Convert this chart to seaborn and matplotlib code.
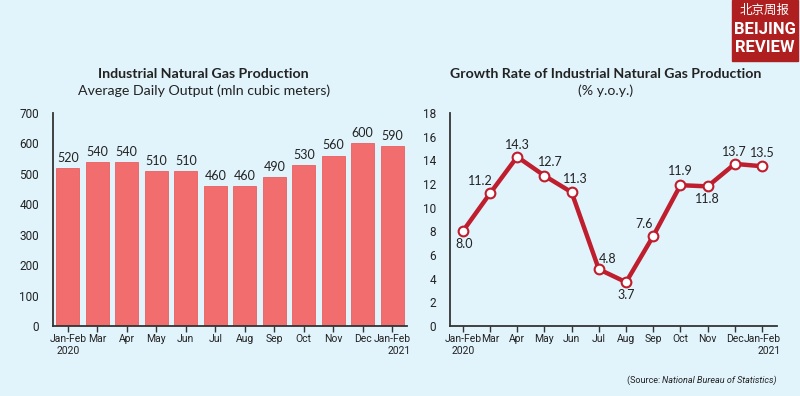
import matplotlib
matplotlib.use("Agg")
import matplotlib.pyplot as plt
import matplotlib.patches as mpatches
import pandas as pd
import seaborn as sns

# Data
months = ["Jan-Feb\n2020", "Mar", "Apr", "May", "Jun", "Jul", "Aug",
          "Sep", "Oct", "Nov", "Dec", "Jan-Feb\n2021"]
daily_output = [520, 540, 540, 510, 510, 460, 460, 490, 530, 560, 600, 590]
growth_rate = [8.0, 11.2, 14.3, 12.7, 11.3, 4.8, 3.7, 7.6, 11.9, 11.8, 13.7, 13.5]
# label offsets in pixels (dx, dy) for the growth labels
growth_offsets = [(1, -13), (-10, 12), (0, 12), (6, 14), (4, 13), (9, 10),
                  (0, -13), (-9, 12), (0, 14), (0, -13), (0, 12), (0, 13)]

BG = "#E1F3FB"
BAR = "#F26D6D"
LINE = "#BE1E2D"
TXT = "#222222"

sns.set_theme(style="white")
plt.rcParams["font.family"] = ["Lato", "DejaVu Sans"]
plt.rcParams["axes.facecolor"] = BG
plt.rcParams["figure.facecolor"] = BG

df = pd.DataFrame({"month": months, "output": daily_output, "growth": growth_rate})

fig = plt.figure(figsize=(8, 3.96), dpi=100)
ax1 = fig.add_axes([53 / 800, 1 - 326 / 396, 354 / 800, 213 / 396])
ax2 = fig.add_axes([450 / 800, 1 - 326 / 396, 327 / 800, 213 / 396])

tick_font = ["Liberation Sans Narrow", "Roboto", "DejaVu Sans"]

# Left: bar chart
sns.barplot(data=df, x="month", y="output", color=BAR, saturation=1,
            width=0.78, edgecolor="#E86060", linewidth=0.6, ax=ax1)
for c in ax1.containers:
    ax1.bar_label(c, padding=3, fontsize=9, color=TXT)
ax1.set_ylim(0, 700)
ax1.set_xlim(-0.5, 11.5)
ax1.set_yticks(range(0, 701, 100))

# Right: line chart
sns.lineplot(x=range(len(months)), y=growth_rate, color=LINE, linewidth=3.2,
             marker="o", markersize=7, markerfacecolor="white",
             markeredgecolor=LINE, markeredgewidth=1.5, ax=ax2)
for i, (v, (dx, dy)) in enumerate(zip(growth_rate, growth_offsets)):
    ax2.annotate(f"{v:.1f}", (i, v), xytext=(dx, dy), textcoords="offset pixels",
                 ha="center", va="center", fontsize=9, color=TXT)
ax2.set_ylim(0, 18)
ax2.set_xlim(-0.47, 11.55)
ax2.set_yticks(range(0, 19, 2))
ax2.set_xticks(range(len(months)))
ax2.set_xticklabels(months)

for ax in (ax1, ax2):
    ax.set_xlabel("")
    ax.set_ylabel("")
    for s in ("top", "right"):
        ax.spines[s].set_visible(False)
    for s in ("left", "bottom"):
        ax.spines[s].set_color("#333333")
        ax.spines[s].set_linewidth(1.3)
    ax.tick_params(axis="x", bottom=True, length=4, width=1, color="#333333",
                   pad=2, labelsize=7.5, labelcolor=TXT)
    ax.tick_params(axis="y", left=False, pad=4, labelsize=8.5, labelcolor=TXT)
    for lab in ax.get_xticklabels():
        lab.set_family(tick_font)
    for lab in ax.get_yticklabels():
        lab.set_family(tick_font)
    labs = ax.get_xticklabels()
    labs[-1].set_multialignment("right")

# Titles
fig.text(203 / 800, 1 - 74 / 396, "Industrial Natural Gas Production",
         ha="center", va="center", fontsize=10.2, fontweight="bold", color=TXT)
fig.text(204 / 800, 1 - 91 / 396, "Average Daily Output (mln cubic meters)",
         ha="center", va="center", fontsize=10.2, color=TXT)
fig.text(606 / 800, 1 - 74 / 396, "Growth Rate of Industrial Natural Gas Production",
         ha="center", va="center", fontsize=10.2, fontweight="bold", color=TXT)
fig.text(606 / 800, 1 - 91 / 396, "(% y.o.y.)",
         ha="center", va="center", fontsize=10.2, color=TXT)

# Source
src = fig.text(777 / 800, 1 - 380 / 396, "National Bureau of Statistics)",
               ha="right", va="center", fontsize=6.5, style="italic", color=TXT,
               family=tick_font)
fig.add_artist(plt.Annotation("(Source: ", xy=(0, 0.5), xycoords=src,
                              ha="right", va="center", fontsize=6.5, color=TXT,
                              family=tick_font))

# Logo
fig.patches.append(mpatches.Rectangle((732 / 800, 1 - 61 / 396), 66 / 800, 61 / 396,
                                      transform=fig.transFigure, color="#B01F1F",
                                      zorder=5))
fig.text(765 / 800, 1 - 10 / 396, "北京周报", ha="center", va="center",
         fontsize=9, color="white", zorder=6,
         family=["Noto Sans CJK SC", "DejaVu Sans"])
fig.text(765 / 800, 1 - 29 / 396, "BEIJING", ha="center", va="center",
         fontsize=12, fontweight="bold", color="white", zorder=6,
         family=tick_font)
fig.text(765 / 800, 1 - 48 / 396, "REVIEW", ha="center", va="center",
         fontsize=12, fontweight="bold", color="white", zorder=6,
         family=tick_font)

fig.savefig("out.png", dpi=100, facecolor=BG)
